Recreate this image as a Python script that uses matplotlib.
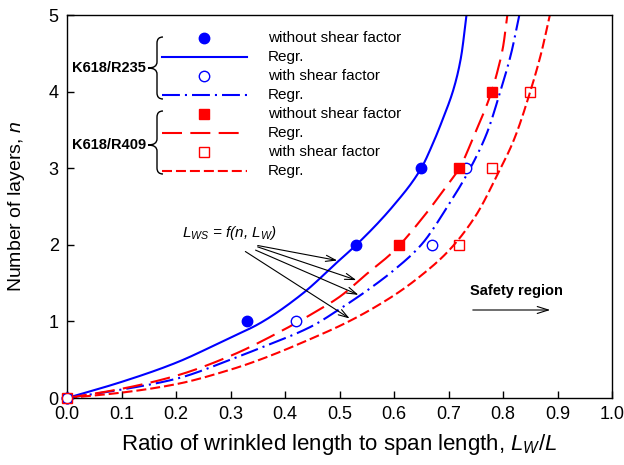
import matplotlib
matplotlib.use('Agg')
import matplotlib.pyplot as plt
import numpy as np
from matplotlib.lines import Line2D
from matplotlib.path import Path
from matplotlib.patches import PathPatch, FancyArrowPatch

plt.rcParams['font.family'] = ['Liberation Sans', 'DejaVu Sans']
plt.rcParams['mathtext.fontset'] = 'custom'
plt.rcParams['mathtext.it'] = 'Liberation Sans:italic'
plt.rcParams['mathtext.rm'] = 'Liberation Sans'
plt.rcParams['mathtext.bf'] = 'Liberation Sans:bold'

# ---------------- data ----------------
# K618/R235 test points
r235_plain_x = [0.0, 0.33, 0.53, 0.65]
r235_plain_n = [0, 1, 2, 3]
r235_shear_x = [0.0, 0.42, 0.67, 0.733]
r235_shear_n = [0, 1, 2, 3]
# K618/R409 test points
r409_plain_x = [0.61, 0.72, 0.78]
r409_plain_n = [2, 3, 4]
r409_shear_x = [0.0, 0.72, 0.78, 0.85]
r409_shear_n = [0, 2, 3, 4]

# regression curves
reg235_plain_x = [0, 0.1, 0.2, 0.3, 0.35, 0.43, 0.5, 0.531, 0.6, 0.65, 0.67, 0.69, 0.71, 0.723, 0.733]
reg235_plain_n = [0, 0.21, 0.46, 0.79, 0.96, 1.35, 1.8, 2.0, 2.52, 3.0, 3.3, 3.65, 4.05, 4.45, 5.0]
reg235_shear_x = [0, 0.1, 0.2, 0.3, 0.35, 0.45, 0.5, 0.55, 0.6, 0.65, 0.7, 0.74, 0.77, 0.795, 0.815, 0.83]
reg235_shear_n = [0, 0.11, 0.25, 0.5, 0.64, 0.94, 1.16, 1.40, 1.67, 2.0, 2.52, 3.0, 3.45, 4.0, 4.5, 5.0]
reg409_plain_x = [0, 0.1, 0.2, 0.3, 0.4, 0.45, 0.5, 0.55, 0.6, 0.65, 0.7, 0.72, 0.75, 0.77, 0.78, 0.79, 0.8, 0.808]
reg409_plain_n = [0, 0.12, 0.29, 0.55, 0.9, 1.1, 1.32, 1.62, 1.92, 2.33, 2.8, 3.0, 3.48, 3.82, 4.02, 4.27, 4.58, 5.0]
reg409_shear_x = [0, 0.1, 0.2, 0.3, 0.35, 0.45, 0.52, 0.6, 0.65, 0.7, 0.75, 0.79, 0.82, 0.85, 0.87, 0.886]
reg409_shear_n = [0, 0.07, 0.18, 0.37, 0.49, 0.78, 1.01, 1.34, 1.6, 1.92, 2.38, 2.92, 3.37, 4.0, 4.5, 5.0]

x_ticks = [0.0, 0.1, 0.2, 0.3, 0.4, 0.5, 0.6, 0.7, 0.8, 0.9, 1.0]
y_ticks = [0, 1, 2, 3, 4, 5]

legend_labels = ['without shear factor', 'Regr.', 'with shear factor', 'Regr.',
                 'without shear factor', 'Regr.', 'with shear factor', 'Regr.']
group_labels = ['K618/R235', 'K618/R409']

# ---------------- styles ----------------
BLUE = '#0000FF'
RED = '#FF0000'
LW = 1.5
LS_DASHDOT = (0, (8.6, 2.4, 1.0, 2.4))
LS_LONG = (0, (9.6, 4.0))
LS_SHORT = (0, (4.8, 1.9))
MS = 7.5


def smooth(x, y, per=25):
    """Monotone cubic (PCHIP) densification, used only for drawing smooth curves."""
    x = np.asarray(x, float)
    y = np.asarray(y, float)
    h = np.diff(x)
    d = np.diff(y) / h
    m = np.zeros_like(x)
    for k in range(1, len(x) - 1):
        if d[k - 1] * d[k] > 0:
            w1 = 2 * h[k] + h[k - 1]
            w2 = h[k] + 2 * h[k - 1]
            m[k] = (w1 + w2) / (w1 / d[k - 1] + w2 / d[k])
    m[0] = d[0]
    m[-1] = d[-1]
    xs, ys = [], []
    for k in range(len(x) - 1):
        t = np.linspace(0, 1, per, endpoint=False)
        h00 = 2 * t**3 - 3 * t**2 + 1
        h10 = t**3 - 2 * t**2 + t
        h01 = -2 * t**3 + 3 * t**2
        h11 = t**3 - t**2
        xs.append(x[k] + t * h[k])
        ys.append(h00 * y[k] + h10 * h[k] * m[k] + h01 * y[k + 1] + h11 * h[k] * m[k + 1])
    xs.append([x[-1]])
    ys.append([y[-1]])
    return np.concatenate(xs), np.concatenate(ys)


W, H = 624, 465
fig = plt.figure(figsize=(W / 100, H / 100), dpi=100)
L, R, T, B = 67, 612, 15, 398
ax = fig.add_axes([L / W, 1 - B / H, (R - L) / W, (B - T) / H])


def F(x, y):
    return (x / W, 1 - y / H)


ax.plot(*smooth(reg235_plain_x, reg235_plain_n), color=BLUE, lw=LW, ls='-')
ax.plot(*smooth(reg235_shear_x, reg235_shear_n), color=BLUE, lw=LW, ls=LS_DASHDOT)
ax.plot(*smooth(reg409_plain_x, reg409_plain_n), color=RED, lw=LW, ls=LS_LONG)
ax.plot(*smooth(reg409_shear_x, reg409_shear_n), color=RED, lw=LW, ls=LS_SHORT)

ax.plot(r235_plain_x, r235_plain_n, 'o', color=BLUE, ms=MS, clip_on=False, zorder=5)
ax.plot(r235_shear_x, r235_shear_n, 'o', mfc='white', mec=BLUE, mew=1.0, ms=MS, clip_on=False, zorder=5)
ax.plot(r409_plain_x, r409_plain_n, 's', color=RED, ms=MS, clip_on=False, zorder=5)
ax.plot(r409_shear_x, r409_shear_n, 's', mfc='none', mec=RED, mew=1.0, ms=MS, clip_on=False, zorder=6)

ax.set_xlim(0, 1.0)
ax.set_ylim(0, 5)
ax.set_xticks(x_ticks)
ax.set_xticklabels([f'{v:.1f}' for v in x_ticks])
ax.set_yticks(y_ticks)
ax.tick_params(direction='in', length=5, width=1, labelsize=13, pad=6)
for s in ax.spines.values():
    s.set_linewidth(1.0)
ax.set_xlabel(r'Ratio of wrinkled length to span length, $L_W/L$', fontsize=16, labelpad=6)
ax.set_ylabel(r'Number of layers, $n$', fontsize=14)
ax.yaxis.set_label_coords(-0.074, 0.5)

# ---------------- custom legend ----------------
lx0, lx1, mx, tx = 162, 247, 204, 268
rows = [38, 57, 76, 95, 114, 133, 152, 171]
fig.add_artist(Line2D(*zip(F(mx, rows[0])), marker='o', color=BLUE, ms=MS, transform=fig.transFigure))
fig.add_artist(Line2D(*zip(F(lx0, rows[1]), F(lx1, rows[1])), color=BLUE, lw=LW, transform=fig.transFigure))
fig.add_artist(Line2D(*zip(F(mx, rows[2])), marker='o', mfc='white', mec=BLUE, mew=1.0, ms=MS, transform=fig.transFigure))
fig.add_artist(Line2D(*zip(F(lx0, rows[3]), F(lx1, rows[3])), color=BLUE, lw=LW, ls=LS_DASHDOT, transform=fig.transFigure))
fig.add_artist(Line2D(*zip(F(mx, rows[4])), marker='s', color=RED, ms=MS, transform=fig.transFigure))
fig.add_artist(Line2D(*zip(F(lx0, rows[5]), F(240, rows[5])), color=RED, lw=LW, ls=LS_LONG, transform=fig.transFigure))
fig.add_artist(Line2D(*zip(F(mx, rows[6])), marker='s', mfc='white', mec=RED, mew=1.0, ms=MS, transform=fig.transFigure))
fig.add_artist(Line2D(*zip(F(lx0, rows[7]), F(lx1, rows[7])), color=RED, lw=LW, ls=LS_SHORT, transform=fig.transFigure))
for yy, lab in zip(rows, legend_labels):
    fig.text(*F(tx, yy), lab, fontsize=11, ha='left', va='center')


def brace(y1, y2, ym, xs=157, xt=148, xe=163, r=6):
    pts = [F(xe, y1), F(xs, y1), F(xs, y1 + r), F(xs, ym - r), F(xs, ym), F(xt, ym),
           F(xs, ym), F(xs, ym + r), F(xs, y2 - r), F(xs, y2), F(xe, y2)]
    codes = [Path.MOVETO, Path.CURVE3, Path.CURVE3, Path.LINETO, Path.CURVE3, Path.CURVE3,
             Path.CURVE3, Path.CURVE3, Path.LINETO, Path.CURVE3, Path.CURVE3]
    fig.add_artist(PathPatch(Path(pts, codes), fill=False, lw=1.0, color='black',
                             transform=fig.transFigure))


brace(37, 99, 68)
brace(111, 174, 145)
fig.text(*F(146, 68), group_labels[0], fontsize=10.5, fontweight='bold', ha='right', va='center')
fig.text(*F(146, 145), group_labels[1], fontsize=10.5, fontweight='bold', ha='right', va='center')

# ---------------- annotations ----------------
fig.text(*F(182, 233), r'$L_{WS}$ = $f$($n$, $L_W$)', fontsize=11, style='italic', ha='left', va='center')
starts = [(255, 245), (255, 246), (253, 249), (243, 250)]
ends = [(340, 261), (359, 281), (361, 296), (352, 320)]
for (sx, sy), (ex, ey) in zip(starts, ends):
    fig.add_artist(FancyArrowPatch(
        F(sx, sy), F(ex, ey), transform=fig.transFigure,
        arrowstyle='->,head_length=7,head_width=2.2', mutation_scale=1, lw=0.8, color='black'))

fig.text(*F(470, 291), 'Safety region', fontsize=10.5, fontweight='bold', ha='left', va='center')
fig.add_artist(FancyArrowPatch(
    F(470, 310), F(553, 310), transform=fig.transFigure,
    arrowstyle='->,head_length=8,head_width=2.5', mutation_scale=1, lw=0.8, color='black'))

fig.savefig('out.png', dpi=100)
